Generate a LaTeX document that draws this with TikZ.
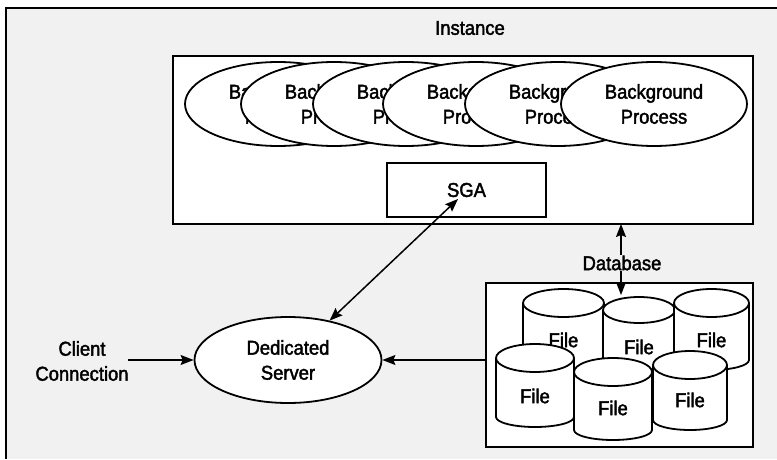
\documentclass[tikz,border=0pt]{standalone}
\usepackage{fontspec}
\setmainfont[FakeStretch=0.92,FakeBold=2]{Liberation Sans}
\usetikzlibrary{arrows.meta,shapes.geometric}
\definecolor{bg}{HTML}{F1F1F1}
\tikzset{
  box/.style={draw, line width=2.2pt, fill=white, rectangle, inner sep=0pt},
  bgp/.style={draw, line width=1.8pt, fill=white, ellipse, inner sep=0pt,
    minimum width=186pt, minimum height=84pt, align=center,
    font=\fontsize{20}{25}\selectfont},
  lbl/.style={font=\fontsize{20}{25}\selectfont, align=center, inner sep=1pt},
  conn/.style={line width=1.5pt, -{Stealth[length=13pt,width=10pt,inset=2pt]}},
  conn2/.style={line width=1.5pt, {Stealth[length=13pt,width=10pt,inset=2pt]}-{Stealth[length=13pt,width=10pt,inset=2pt]}},
  cylline/.style={line width=1.8pt},
}
\newcommand{\filecyl}[8]{%
  \fill[white] ({#2-#4},#3) -- ({#2-#4},#6)
     arc[start angle=180, end angle=360, x radius=#4, y radius=#8]
     -- ({#2+#4},#3) arc[start angle=0, end angle=180, x radius=#4, y radius=#5] -- cycle;
  \draw[cylline] ({#2-#4},#3) -- ({#2-#4},#6)
     arc[start angle=180, end angle=360, x radius=#4, y radius=#8]
     -- ({#2+#4},#3);
  \draw[cylline] (#2,#3) ellipse[x radius=#4, y radius=#5];
  \node[lbl] (#1) at (#2,#7) {File};
}
\begin{document}
\begin{tikzpicture}[x=1pt,y=1pt]
\useasboundingbox (0,0) rectangle (777,459);
\fill[white] (0,0) rectangle (777,459);
% outer frame
\fill[bg] (6,451) rectangle (777,0);
\draw[line width=2.4pt] (777,451) -- (6,451) -- (6,0);
\node[lbl] (insttitle) at (470,431) {Instance};
% instance box
\node[box, minimum width=580pt, minimum height=168pt] (inst) at (463,319) {};
\node[bgp] (bp1) at (278,355) {Background\\Process};
\node[bgp] (bp2) at (334,355) {Background\\Process};
\node[bgp] (bp3) at (406,355) {Background\\Process};
\node[bgp] (bp4) at (476,355) {Background\\Process};
\node[bgp] (bp5) at (558,355) {Background\\Process};
\node[bgp] (bp6) at (654,355) {Background\\Process};
\node[box, minimum width=159pt, minimum height=54pt, font=\fontsize{20}{25}\selectfont] (sga) at (466.5,269) {SGA};
% dedicated server
\node[bgp, minimum width=187pt, minimum height=86pt] (ds) at (288,99) {Dedicated\\Server};
\node[lbl] (client) at (82,98) {Client\\Connection};
% database box
\node[box, minimum width=267pt, minimum height=164pt] (db) at (619.5,94) {};
% cylinders: back row
\filecyl{c1}{563.5}{156}{40.5}{14}{90}{119}{10}
\filecyl{c2}{639}{149}{36}{13}{85}{112}{10}
\filecyl{c3}{711.5}{156}{37.5}{14}{99}{119}{10}
% front row
\filecyl{c4}{535}{101}{39}{14}{42}{63}{10}
\filecyl{c5}{613}{87}{39}{14}{29}{51}{10}
\filecyl{c6}{690}{94}{37}{14}{39}{59}{10}
% connectors
\coordinate (sgatip) at (458,260);
\draw[conn2] (sgatip) -- (ds);
\coordinate (cs) at (128,99);
\draw[conn] (cs) -- (ds.west);
\draw[conn] (db.west |- ds.east) -- (ds.east);
\coordinate (dbup) at (621,235);
\coordinate (dbdown) at (621,164);
\draw[conn2] (dbup) -- (dbdown);
\node[lbl, fill=bg, inner sep=0.5pt] (dblabel) at (622,196) {Database};
\end{tikzpicture}
\end{document}
